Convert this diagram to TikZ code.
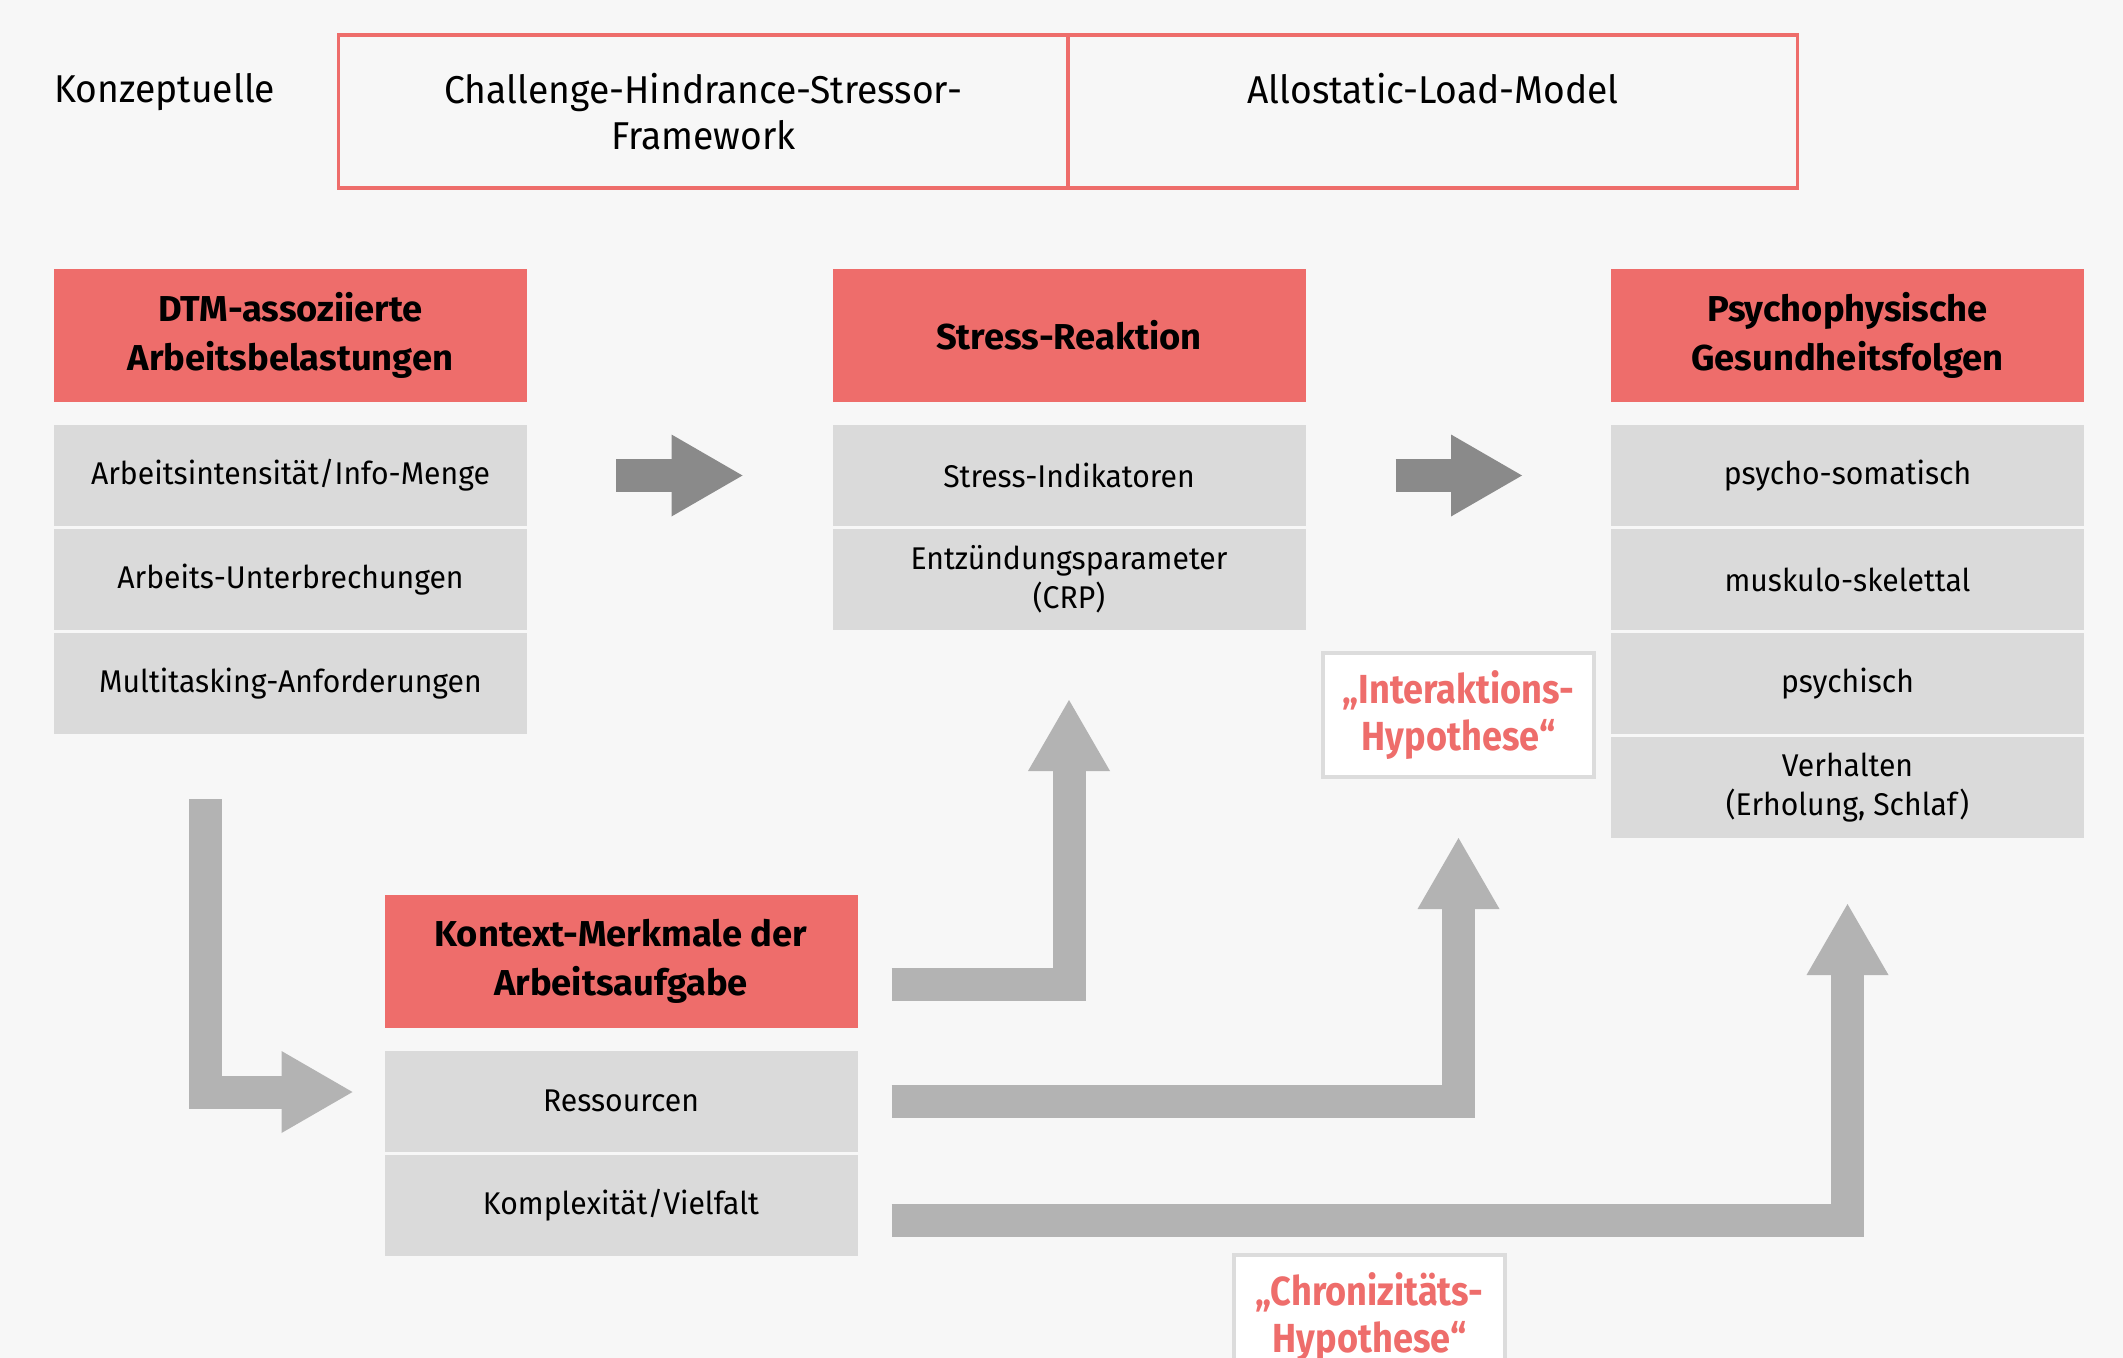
\documentclass[tikz,border=0pt]{standalone}
\usepackage{fontspec}
\setmainfont{Fira Sans}[FakeStretch=0.96]
\newfontfamily\headfont{Fira Sans}[FakeStretch=1.01]
\newfontfamily\hypofont{Fira Sans}[FakeStretch=0.89]
\usepackage{tikz}
\usetikzlibrary{positioning,calc,arrows.meta}

\definecolor{hdred}{HTML}{EE6D6B}
\definecolor{rowgray}{HTML}{DADADA}
\definecolor{bggray}{HTML}{F7F7F7}
\definecolor{arrdark}{HTML}{8A8A8A}
\definecolor{arrlight}{HTML}{B3B3B3}
\definecolor{boxline}{HTML}{DCDCDC}

\begin{document}
\begin{tikzpicture}[x=0.5pt, y=-0.5pt,
  head/.style={fill=hdred, minimum width=236.5pt, minimum height=66.5pt, inner sep=0pt, outer sep=0pt,
    align=center, font=\headfont\bfseries\fontsize{18pt}{24.5pt}\selectfont},
  row/.style={fill=rowgray, minimum width=236.5pt, minimum height=50.5pt, inner sep=0pt, outer sep=0pt,
    align=center, font=\fontsize{15.7pt}{19.5pt}\selectfont},
  cell/.style={draw=hdred, line width=1.6pt, minimum width=364.75pt, minimum height=76.5pt, inner sep=0pt},
  toptxt/.style={inner sep=0pt, align=center, font=\fontsize{19.4pt}{23pt}\selectfont},
  hypo/.style={draw=boxline, line width=2pt, fill=white, minimum width=135.5pt, minimum height=62pt,
    inner sep=0pt, align=center, text=hdred, font=\hypofont\bfseries\fontsize{20.3pt}{23.5pt}\selectfont},
  darrow/.style={arrdark, line width=16.5pt, -{Triangle[length=35.5pt,width=41pt,line width=0pt]}},
  larrow/.style={arrlight, line width=16.5pt, -{Triangle[length=35.5pt,width=41pt,line width=0pt]}}]

  \useasboundingbox (0,0) rectangle (2123,1358);
  \clip (0,0) rectangle (2123,1358);
  \fill[bggray] (0,0) rectangle (2123,1358);

  \node[toptxt, anchor=base west] (konz) at (54,102.5) {Konzeptuelle};
  \node[cell] (chs) at (703.25,111.5) {};
  \node[cell] (alm) at (1433,111.5) {};
  \node[toptxt, anchor=north] (chstxt) at ($(chs.north)+(0,39)$) {Challenge-Hindrance-Stressor-\\Framework};
  \node[toptxt, anchor=north] (almtxt) at ($(alm.north)+(0,39)$) {Allostatic-Load-Model};

  \node[head] (dtm) at (290.5,335.5) {DTM-assoziierte\\Arbeitsbelastungen};
  \node[row, below=11.5pt of dtm] (dtm1) {Arbeitsintensität/Info-Menge};
  \node[row, below=1.5pt of dtm1] (dtm2) {Arbeits-Unterbrechungen};
  \node[row, below=1.5pt of dtm2] (dtm3) {Multitasking-Anforderungen};

  \node[head] (sr) at (1069,335.5) {Stress-Reaktion};
  \node[row, below=11.5pt of sr] (sr1) {Stress-Indikatoren};
  \node[row, below=1.5pt of sr1] (sr2) {Entzündungsparameter\\(CRP)};

  \node[head] (ps) at (1847.5,335.5) {Psychophysische\\Gesundheitsfolgen};
  \node[row, below=11.5pt of ps] (ps1) {psycho-somatisch};
  \node[row, below=1.5pt of ps1] (ps2) {muskulo-skelettal};
  \node[row, below=1.5pt of ps2] (ps3) {psychisch};
  \node[row, below=1.5pt of ps3] (ps4) {Verhalten\\(Erholung, Schlaf)};

  \node[head] (kon) at (621,961) {Kontext-Merkmale der\\Arbeitsaufgabe};
  \node[row, below=11.5pt of kon] (res) {Ressourcen};
  \node[row, below=1.5pt of res] (kom) {Komplexität/Vielfalt};

  \node[hypo] (ih) at (1458.5,715) {„Interaktions-\\Hypothese“};
  \node[hypo] (ch) at (1369.5,1317) {„Chronizitäts-\\Hypothese“};

  \coordinate (a1s) at ($(dtm1.east)+(89,0)$);
  \coordinate (a1e) at ($(sr1.west)+(-90,0)$);
  \coordinate (a2s) at ($(sr1.east)+(90,0)$);
  \coordinate (a2e) at ($(ps1.west)+(-89,0)$);
  \coordinate (lks) at ($(dtm3.south west)+(151,65)$);
  \coordinate (lke) at ($(res.west)+(-32,-9)$);
  \coordinate (u1s) at ($(kon.east)+(34,23.5)$);
  \coordinate (u1e) at ($(sr2.south)+(0,70)$);
  \coordinate (u2s) at ($(res.east)+(34,0)$);
  \coordinate (u2e) at ($(ih.south)+(0,59)$);
  \coordinate (u3s) at ($(kom.east)+(34,15)$);
  \coordinate (u3e) at ($(ps4.south)+(0,66)$);

  \draw[darrow] (a1s) -- (a1e);
  \draw[darrow] (a2s) -- (a2e);
  \draw[larrow] (lks) |- (lke);
  \draw[larrow] (u1s) -| (u1e);
  \draw[larrow] (u2s) -| (u2e);
  \draw[larrow] (u3s) -| (u3e);
\end{tikzpicture}
\end{document}
